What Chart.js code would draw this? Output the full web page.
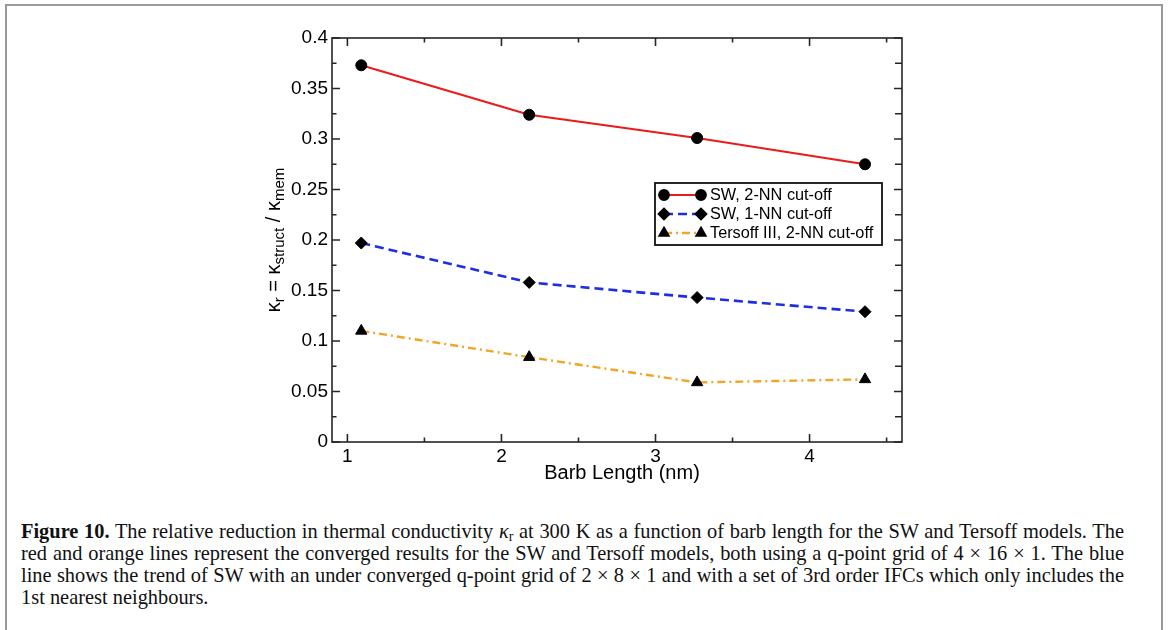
<!DOCTYPE html>
<html><head><meta charset="utf-8">
<script src="https://cdn.jsdelivr.net/npm/chart.js@4.4.0/dist/chart.umd.min.js"></script>
<style>
html,body{margin:0;padding:0;background:#fff;width:1168px;height:630px;overflow:hidden;}
#frame{position:absolute;left:5px;top:4px;width:1154px;height:700px;border:2px solid #9a9a9a;border-bottom:none;}
#wrap{position:absolute;left:0;top:0;width:1168px;height:490px;}
#cap{position:absolute;left:21px;top:520px;width:1103px;font-family:"Liberation Serif","Times New Roman",serif;font-size:17px;line-height:22px;color:#111;}
#cap div{white-space:nowrap;text-align:left;}
#cap.just div{text-align:justify;text-align-last:justify;}
#cap.just div.last{text-align-last:left;}
#cap sub{font-size:0.68em;vertical-align:-0.2em;line-height:0;}
</style></head>
<body>
<div id="frame"></div>
<div id="wrap"><canvas id="c" width="1168" height="490"></canvas></div>
<div id="cap">
<div><span><b>Figure 10.</b> The relative reduction in thermal conductivity <i>κ</i><sub>r</sub> at 300 K as a function of barb length for the SW and Tersoff models. The</span></div>
<div><span>red and orange lines represent the converged results for the SW and Tersoff models, both using a q-point grid of 4 × 16 × 1. The blue</span></div>
<div><span>line shows the trend of SW with an under converged q-point grid of 2 × 8 × 1 and with a set of 3rd order IFCs which only includes the</span></div>
<div class="last"><span>1st nearest neighbours.</span></div>
</div>
<script>
// ---- data ----
const barbLength = [1.09, 2.18, 3.27, 4.36];
const sw2NN = [0.373, 0.324, 0.301, 0.275];
const sw1NN = [0.197, 0.158, 0.143, 0.129];
const tersoff3 = [0.110, 0.084, 0.059, 0.062];
const seriesNames = ['SW, 2-NN cut-off', 'SW, 1-NN cut-off', 'Tersoff III, 2-NN cut-off'];
const xMajorTicks = [1, 2, 3, 4];
const xMinorTicks = [1.5, 2.5, 3.5, 4.5];
const xTickLabels = ['1', '2', '3', '4'];
const yMajorTicks = [0, 0.05, 0.1, 0.15, 0.2, 0.25, 0.3, 0.35, 0.4];
const yMinorTicks = [0.025, 0.075, 0.125, 0.175, 0.225, 0.275, 0.325, 0.375];
const yTickLabels = ['0', '0.05', '0.1', '0.15', '0.2', '0.25', '0.3', '0.35', '0.4'];
const xTitle = 'Barb Length (nm)';
const yTitleParts = [['κ', 0], ['r', 1], [' = ', 0], ['κ', 0], ['struct', 1], [' / ', 0], ['κ', 0], ['mem', 1]];

// fit caption font so that the justified lines fill the same width as the reference
(function () {
  const cap = document.getElementById('cap');
  const spans = [...cap.querySelectorAll('div span')].slice(0, 3);
  const maxW = Math.max(...spans.map(s => s.getBoundingClientRect().width));
  const fs = 17 * 1096 / maxW;
  cap.style.fontSize = fs.toFixed(2) + 'px';
  cap.classList.add('just');
})();

const SANS = '"Liberation Sans", Arial, Helvetica, sans-serif';
const pts = ys => barbLength.map((x, i) => ({x: x, y: ys[i]}));

const frameTicks = {
  id: 'frameTicks',
  beforeDatasetsDraw(chart) {
    const {ctx, chartArea: a, scales: {x, y}} = chart;
    ctx.save();
    ctx.strokeStyle = '#262626';
    ctx.lineWidth = 1.6;
    ctx.strokeRect(a.left, a.top, a.right - a.left, a.bottom - a.top);
    ctx.beginPath();
    const vt = (v, len) => {
      const px = x.getPixelForValue(v);
      ctx.moveTo(px, a.bottom); ctx.lineTo(px, a.bottom - len);
      ctx.moveTo(px, a.top); ctx.lineTo(px, a.top + len);
    };
    xMajorTicks.forEach(v => vt(v, 8));
    xMinorTicks.forEach(v => vt(v, 4.5));
    const ht = (v, lenL, lenR) => {
      const py = y.getPixelForValue(v);
      ctx.moveTo(a.left, py); ctx.lineTo(a.left + lenL, py);
      ctx.moveTo(a.right, py); ctx.lineTo(a.right - lenR, py);
    };
    yMajorTicks.forEach(v => ht(v, 8, 8));
    yMinorTicks.forEach(v => ht(v, 4.5, 7));
    ctx.stroke();
    ctx.restore();
  },
  afterDatasetsDraw(chart) {
    const {ctx} = chart;
    // legend
    const bx = 655, by = 183, bw = 227, bh = 62;
    ctx.save();
    ctx.fillStyle = '#fff';
    ctx.fillRect(bx, by, bw, bh);
    ctx.strokeStyle = '#111';
    ctx.lineWidth = 1.8;
    ctx.strokeRect(bx, by, bw, bh);
    const rows = [195, 214, 233];
    const legRadius = [5, 5.5, 5.5];
    chart.data.datasets.forEach((ds, i) => {
      const ry = rows[i];
      const x1 = 664, x2 = 701;
      ctx.save();
      ctx.strokeStyle = ds.borderColor;
      ctx.lineWidth = ds.borderWidth;
      ctx.setLineDash(ds.borderDash || []);
      ctx.beginPath(); ctx.moveTo(x1, ry); ctx.lineTo(x2, ry); ctx.stroke();
      ctx.restore();
      ctx.fillStyle = '#000';
      ctx.strokeStyle = '#000';
      const opt = {pointStyle: ds.pointStyle, radius: legRadius[i], rotation: 0, borderWidth: 1};
      [x1, x2].forEach(px => {
        ctx.beginPath();
        Chart.helpers.drawPoint(ctx, opt, px, ry);
      });
      ctx.fillStyle = '#000';
      ctx.font = '16.3px ' + SANS;
      ctx.textBaseline = 'middle';
      ctx.textAlign = 'left';
      ctx.fillText(ds.label, 710, ry + 1);
    });
    ctx.restore();
  },
  afterDraw(chart) {
    const {ctx, chartArea: a} = chart;
    ctx.save();
    ctx.fillStyle = '#000';
    // x title
    ctx.font = '20px ' + SANS;
    ctx.textAlign = 'center';
    ctx.textBaseline = 'alphabetic';
    ctx.fillText(xTitle, 622, 479);
    // y title with subscripts
    const mainF = '20px ' + SANS, subF = '15px ' + SANS;
    let total = 0;
    const widths = yTitleParts.map(([t, s]) => { ctx.font = s ? subF : mainF; const w = ctx.measureText(t).width; total += w; return w; });
    ctx.translate(280, (a.top + a.bottom) / 2);
    ctx.rotate(-Math.PI / 2);
    ctx.textAlign = 'left';
    let cx = -total / 2;
    yTitleParts.forEach(([t, s], i) => {
      ctx.font = s ? subF : mainF;
      ctx.fillText(t, cx, s ? 4 : 0);
      cx += widths[i];
    });
    ctx.restore();
  }
};

new Chart(document.getElementById('c'), {
  type: 'scatter',
  data: {
    datasets: [
      {label: seriesNames[0], data: pts(sw2NN), showLine: true, borderColor: '#ec1a1a', borderWidth: 2.2,
       pointStyle: 'circle', pointRadius: 5.5, pointBackgroundColor: '#000', pointBorderColor: '#000', pointBorderWidth: 1},
      {label: seriesNames[1], data: pts(sw1NN), showLine: true, borderColor: '#1f2ee0', borderWidth: 2.6, borderDash: [9, 5],
       pointStyle: 'rectRot', pointRadius: 6, pointBackgroundColor: '#000', pointBorderColor: '#000', pointBorderWidth: 1},
      {label: seriesNames[2], data: pts(tersoff3), showLine: true, borderColor: '#f2a426', borderWidth: 2.4, borderDash: [8, 4, 2, 4],
       pointStyle: 'triangle', pointRadius: 6.5, pointBackgroundColor: '#000', pointBorderColor: '#000', pointBorderWidth: 1}
    ]
  },
  options: {
    responsive: false,
    animation: false,
    devicePixelRatio: 1,
    layout: {padding: {left: 0, right: 266, top: 38, bottom: 0}},
    plugins: {legend: {display: false}, tooltip: {enabled: false}},
    scales: {
      x: {
        type: 'linear', min: 0.9, max: 4.6,
        afterBuildTicks: s => { s.ticks = xMajorTicks.map(v => ({value: v})); },
        afterFit: s => { s.height = 48; },
        grid: {display: false, drawTicks: false},
        border: {display: false},
        ticks: {
          autoSkip: false, maxRotation: 0, padding: 3, color: '#000',
          font: {family: SANS, size: 19},
          callback: (v) => { const i = xMajorTicks.indexOf(v); return i >= 0 ? xTickLabels[i] : ''; }
        }
      },
      y: {
        type: 'linear', min: 0, max: 0.4,
        afterBuildTicks: s => { s.ticks = yMajorTicks.map(v => ({value: v})); },
        afterFit: s => { s.width = 332; },
        grid: {display: false, drawTicks: false},
        border: {display: false},
        ticks: {
          autoSkip: false, padding: 4, color: '#000',
          font: {family: SANS, size: 19},
          callback: (v) => { const i = yMajorTicks.findIndex(t => Math.abs(t - v) < 1e-9); return i >= 0 ? yTickLabels[i] : ''; }
        }
      }
    }
  },
  plugins: [frameTicks]
});
</script>
</body></html>
